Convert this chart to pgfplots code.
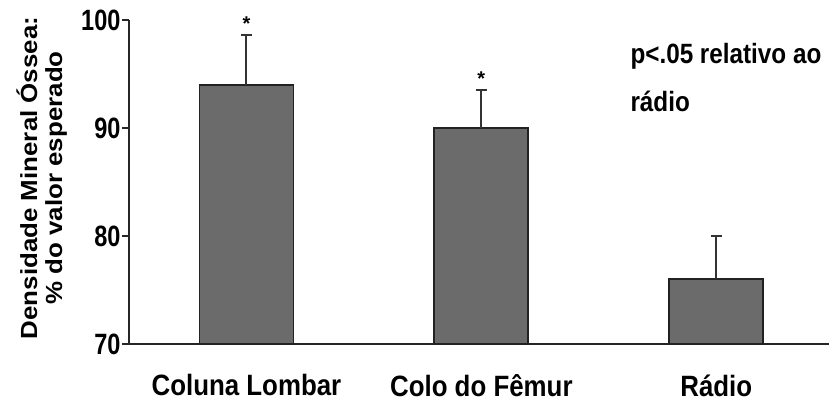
\documentclass[border=0pt]{standalone}
\usepackage{pgfplots}
\pgfplotsset{compat=1.18}
\usepackage{fontspec}
\setmainfont{Liberation Sans}
\newfontfamily\condcat{Liberation Sans}[FakeStretch=0.88]
\newfontfamily\condnote{Liberation Sans}[FakeStretch=0.87]
\definecolor{barfill}{HTML}{6B6B6B}
\definecolor{baredge}{HTML}{222222}
\definecolor{errcol}{HTML}{333333}
\begin{document}
\begin{tikzpicture}
\path[use as bounding box] (-129bp,-62bp) rectangle (700bp,344bp);
\begin{axis}[
  at={(0,0)}, anchor=south west,
  scale only axis, width=700bp, height=324bp,
  xmin=-0.5, xmax=2.48, ymin=70, ymax=100,
  axis x line*=bottom, axis y line*=left,
  axis line style={line width=1.6bp, color=black!85},
  ytick={70,80,90,100},
  xtick={0,1,2},
  xticklabels={Coluna Lombar, Colo do Fêmur, Rádio},
  extra x ticks={-0.5,0.5,1.5},
  extra x tick labels={},
  extra x tick style={major tick length=8bp, tick style={line width=1.6bp, color=black!85}},
  tick align=outside,
  major tick length=7bp,
  tick style={line width=1.6bp, color=black!85},
  x tick style={draw=none},
  /pgf/number format/assume math mode=true,
  xticklabel style={font=\bfseries\condcat\fontsize{29.5}{32}\selectfont, yshift=-20bp},
  yticklabel={\scalebox{0.8}[1]{\fontsize{29.5}{32}\bfseries\selectfont\pgfmathprintnumber{\tick}}},
  yticklabel style={xshift=2bp},
  clip=false,
]
\addplot[ybar, bar width=94bp, fill=barfill, draw=baredge, line width=1.8bp,
  error bars/.cd, y dir=plus, y explicit,
  error bar style={line width=2bp, color=errcol},
  error mark options={rotate=90, mark size=5.5bp, line width=2.2bp, color=errcol}]
  coordinates {(0,94.0) +- (0,4.6) (1,90.0) +- (0,3.5) (2,76.05) +- (0,3.95)};
\node[font=\bfseries\fontsize{20}{20}\selectfont] at (axis cs:0,99.7) {*};
\node[font=\bfseries\fontsize{20}{20}\selectfont] at (axis cs:1,94.6) {*};
\end{axis}
\node[anchor=base west, font=\bfseries\condnote\fontsize{28}{30}\selectfont] at (498bp,280bp) {p<.05 relativo ao};
\node[anchor=base west, font=\bfseries\condnote\fontsize{28}{30}\selectfont] at (498bp,232bp) {rádio};
\node at (-86bp,166bp) {\scalebox{0.9}[1]{\rotatebox{90}{\bfseries\fontsize{26}{28}\selectfont\begin{tabular}{@{}c@{}}Densidade Mineral Óssea:\\\% do valor esperado\end{tabular}}}};
\end{tikzpicture}
\end{document}
